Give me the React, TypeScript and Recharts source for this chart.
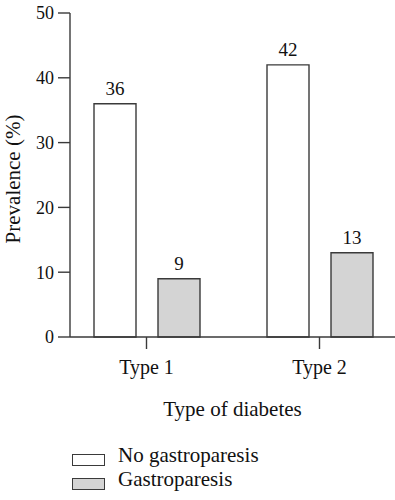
import { BarChart, Bar, XAxis, YAxis, LabelList, Label } from 'recharts'

const categories = ['Type 1', 'Type 2']
const noGastroparesis = [36, 42]
const gastroparesis = [9, 13]
const yTicks = [0, 10, 20, 30, 40, 50]
const legendItems = ['No gastroparesis', 'Gastroparesis']

const data = categories.map((type, i) => ({
  type,
  none: noGastroparesis[i],
  gastro: gastroparesis[i],
}))

const FONT = '"Liberation Serif", "DejaVu Serif", serif'
const INK = '#3a3a3a'
const TEXT = '#111'
const GRAY = '#d4d4d4'
const legendFills = ['#fff', GRAY]

export default function App() {
  return (
    <div
      style={{
        position: 'absolute',
        left: 0,
        top: 0,
        width: 395,
        height: 500,
        overflow: 'hidden',
        background: '#fff',
        fontFamily: FONT,
      }}
    >
      <BarChart
        width={395}
        height={500}
        data={data}
        margin={{ top: 13, right: 0, bottom: 0, left: 0 }}
        barGap={22}
        barSize={42}
        style={{ fontFamily: FONT, overflow: 'visible' }}
      >
        <YAxis
          width={70}
          domain={[0, 50]}
          ticks={yTicks}
          tickSize={12}
          tickMargin={4}
          axisLine={{ stroke: INK, strokeWidth: 1.4 }}
          tickLine={{ stroke: INK, strokeWidth: 1.4 }}
          tick={{ fill: TEXT, fontSize: 18, fontFamily: FONT }}
        >
          <Label
            value="Prevalence (%)"
            angle={-90}
            position="insideLeft"
            offset={0}
            dx={13}
            dy={4}
            style={{ textAnchor: 'middle', fill: TEXT, fontSize: 21, fontFamily: FONT }}
          />
        </YAxis>
        <XAxis
          dataKey="type"
          height={163}
          padding={{ left: -10, right: -11 }}
          tickSize={12}
          tickMargin={11}
          axisLine={{ stroke: INK, strokeWidth: 1.4 }}
          tickLine={{ stroke: INK, strokeWidth: 1.4 }}
          tick={{ fill: TEXT, fontSize: 20, fontFamily: FONT }}
        >
          <Label
            value="Type of diabetes"
            position="insideTop"
            offset={64}
            style={{ fill: TEXT, fontSize: 21, fontFamily: FONT }}
          />
        </XAxis>
        <Bar dataKey="none" fill="#fff" stroke={INK} strokeWidth={1.4} isAnimationActive={false}>
          <LabelList dataKey="none" position="top" offset={9} style={{ fill: TEXT, fontSize: 19, fontFamily: FONT }} />
        </Bar>
        <Bar dataKey="gastro" fill={GRAY} stroke={INK} strokeWidth={1.4} isAnimationActive={false}>
          <LabelList dataKey="gastro" position="top" offset={9} style={{ fill: TEXT, fontSize: 19, fontFamily: FONT }} />
        </Bar>
      </BarChart>
      {legendItems.map((name, i) => (
        <div key={name}>
          <span
            style={{
              position: 'absolute',
              left: 72,
              top: 454 + i * 24,
              width: 33,
              height: 12,
              boxSizing: 'border-box',
              border: `1.4px solid ${INK}`,
              background: legendFills[i],
            }}
          />
          <span
            style={{
              position: 'absolute',
              left: 118,
              top: 445 + i * 24,
              fontSize: 21,
              lineHeight: '21px',
              color: TEXT,
              whiteSpace: 'nowrap',
            }}
          >
            {name}
          </span>
        </div>
      ))}
    </div>
  )
}
